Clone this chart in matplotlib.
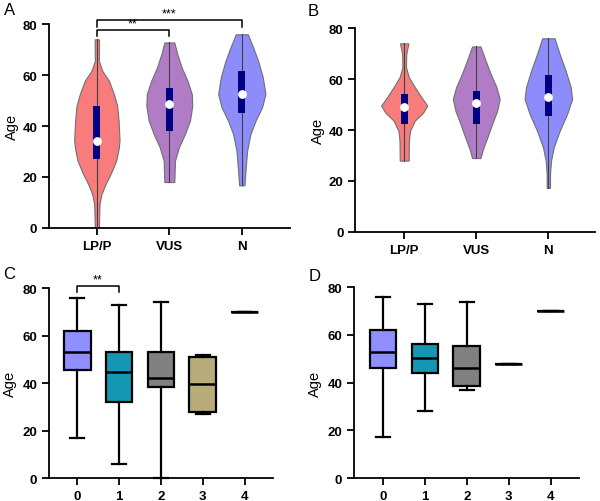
import matplotlib.pyplot as plt

plt.rcParams['font.family'] = ['Liberation Sans', 'DejaVu Sans']

# ---- violin data (A and B): ages where outline was read, half widths there ----
groups_v = ["LP/P", "VUS", "N"]
violin_colors = ["#F87C7C", "#B07CC6", "#8C8CFA"]

a_lpp_y = [0.3, 9.4, 13.3, 17.2, 21.2, 26.4, 31, 34.3, 42.1, 48, 52.6, 57.8, 61.7, 65.6, 74]
a_lpp_w = [0.028, 0.037, 0.064, 0.12, 0.19, 0.267, 0.30, 0.313, 0.30, 0.28, 0.234, 0.166, 0.074, 0.028, 0.03]
a_vus_y = [18, 26.4, 31.7, 36.9, 42.1, 48, 52.6, 57.8, 63, 68.2, 72.8]
a_vus_w = [0.069, 0.078, 0.133, 0.216, 0.285, 0.317, 0.31, 0.25, 0.17, 0.11, 0.069]
a_n_y = [16.7, 23.9, 30.4, 36.9, 42.1, 47.4, 52.6, 59.1, 65.6, 70.9, 76]
a_n_w = [0.037, 0.055, 0.074, 0.12, 0.19, 0.28, 0.326, 0.29, 0.225, 0.156, 0.083]
a_q1 = [27, 38, 45]
a_med = [34, 48.5, 52.5]
a_q3 = [48, 55, 61.5]

b_lpp_y = [28, 35.8, 39.7, 43.7, 46.9, 49.6, 52.8, 56.8, 60.7, 64.6, 69.8, 74]
b_lpp_w = [0.062, 0.065, 0.08, 0.148, 0.264, 0.32, 0.24, 0.148, 0.065, 0.025, 0.028, 0.058]
b_vus_y = [29, 32.5, 37.1, 42.4, 47.6, 52.2, 56.8, 62, 67.2, 72.8]
b_vus_w = [0.058, 0.093, 0.153, 0.22, 0.29, 0.325, 0.28, 0.2, 0.13, 0.058]
b_n_y = [17.3, 22.7, 27.9, 33.2, 39.7, 46.3, 52.2, 56.8, 63.3, 69.8, 76]
b_n_w = [0.023, 0.023, 0.037, 0.074, 0.157, 0.26, 0.33, 0.31, 0.24, 0.157, 0.086]
b_q1 = [42.5, 42.5, 45.5]
b_med = [49, 50.5, 53]
b_q3 = [54, 55.5, 61.5]

# ---- box data (C and D): min, q1, median, q3, max ----
groups_b = ["0", "1", "2", "3", "4"]
box_colors = ["#8F8FFF", "#1497B3", "#808080", "#B8AD7A", "#FFFFFF"]
c_min = [17, 6, 0, 27, 70]
c_q1 = [45.5, 32, 38.5, 28, 70]
c_med = [53, 44.5, 42, 39.5, 70]
c_q3 = [62, 53, 53, 51, 70]
c_max = [76, 73, 74, 52, 70]

d_min = [17, 28, 37, 48, 70]
d_q1 = [46, 44, 38.5, 48, 70]
d_med = [53, 50.5, 46, 48, 70]
d_q3 = [62, 56, 55.5, 48, 70]
d_max = [76, 73, 74, 48, 70]

fig = plt.figure(figsize=(6, 5.02), dpi=100)
axA = fig.add_axes([0.0817, 0.544, 0.401, 0.406])
axB = fig.add_axes([0.592, 0.536, 0.400, 0.406])
axC = fig.add_axes([0.0817, 0.0458, 0.373, 0.378])
axD = fig.add_axes([0.590, 0.0458, 0.375, 0.380])


def style(ax, labels, xlim, pad):
    ax.set_ylim(0, 80)
    ax.set_xlim(*xlim)
    ax.set_yticks([0, 20, 40, 60, 80])
    ax.set_xticks(range(len(labels)))
    ax.set_xticklabels(labels)
    for s in ["top", "right"]:
        ax.spines[s].set_visible(False)
    for s in ["left", "bottom"]:
        ax.spines[s].set_linewidth(1.3)
    ax.tick_params(width=1.3, length=5, labelsize=9.5)
    for t in ax.get_xticklabels() + ax.get_yticklabels():
        t.set_fontweight("bold")
    ax.set_ylabel("Age", fontsize=10.5, labelpad=pad)


def violins(ax, profiles, q1, med, q3):
    for i, (ys, ws) in enumerate(profiles):
        left = [i - w for w in ws]
        right = [i + w for w in ws]
        ax.fill_betweenx(ys, left, right, facecolor=violin_colors[i],
                         edgecolor="#707070", linewidth=0.8, zorder=2)
        ax.plot([i, i], [ys[0], ys[-1]], color="#404040", lw=0.8, zorder=3)
        ax.bar(i, q3[i] - q1[i], bottom=q1[i], width=0.1, color="#000080", zorder=4)
        ax.scatter(i, med[i], s=28, color="white", zorder=5)


def boxes(ax, mins, q1, med, q3, maxs):
    stats = [dict(whislo=mins[i], q1=q1[i], med=med[i], q3=q3[i], whishi=maxs[i])
             for i in range(len(mins))]
    bp = ax.bxp(stats, positions=range(len(stats)), widths=0.64, patch_artist=True,
                showfliers=False,
                boxprops=dict(linewidth=1.6, edgecolor="black"),
                medianprops=dict(color="black", linewidth=1.8),
                whiskerprops=dict(linewidth=1.6),
                capprops=dict(linewidth=1.6))
    for patch, c in zip(bp["boxes"], box_colors):
        patch.set_facecolor(c)
    for line in bp["caps"] + bp["whiskers"]:
        line.set_clip_on(False)


violins(axA, [(a_lpp_y, a_lpp_w), (a_vus_y, a_vus_w), (a_n_y, a_n_w)], a_q1, a_med, a_q3)
violins(axB, [(b_lpp_y, b_lpp_w), (b_vus_y, b_vus_w), (b_n_y, b_n_w)], b_q1, b_med, b_q3)
style(axA, groups_v, (-0.66, 2.66), 2.5)
style(axB, groups_v, (-0.68, 2.65), 2.5)

boxes(axC, c_min, c_q1, c_med, c_q3, c_max)
boxes(axD, d_min, d_q1, d_med, d_q3, d_max)
style(axC, groups_b, (-0.67, 4.67), 4)
style(axD, groups_b, (-0.69, 4.67), 4)


def bracket(ax, x1, x2, y, drop, text):
    ax.plot([x1, x1, x2, x2], [y - drop, y, y, y - drop], color="black", lw=1.1,
            clip_on=False)
    ax.text((x1 + x2) / 2, y + 0.3, text, ha="center", va="bottom", fontsize=9)


bracket(axA, 0, 1, 77.6, 2.4, "**")
bracket(axA, 0, 2, 81.7, 2.7, "***")
bracket(axC, 0, 1, 81, 2.6, "**")

for lab, x, y in [("A", 0.006, 0.995), ("B", 0.512, 0.992), ("C", 0.006, 0.468), ("D", 0.514, 0.464)]:
    fig.text(x, y, lab, fontsize=12, ha="left", va="top")

fig.savefig("out.png", dpi=100)
